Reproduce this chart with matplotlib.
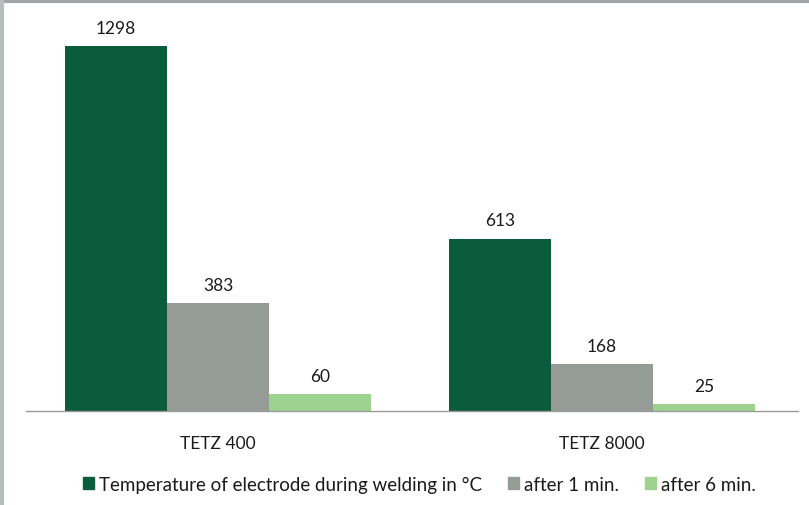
import numpy as np
import matplotlib
matplotlib.use('Agg')
import matplotlib.pyplot as plt
from matplotlib.lines import Line2D
from matplotlib.patches import Rectangle

# ── Data ──────────────────────────────────────────────
categories = ['TETZ 400', 'TETZ 8000']
series_names = ['Temperature of electrode during welding in °C',
                'after 1 min.', 'after 6 min.']
during_welding = [1298, 613]
after_1_min = [383, 168]
after_6_min = [60, 25]

COLORS = ['#0b5c3c', '#959c98', '#9dd28f']

plt.rcParams['font.family'] = ['Lato', 'DejaVu Sans']

fig = plt.figure(figsize=(8.09, 5.06), dpi=100)
# category spacing 384 px, axis line runs a bit past the last group
ax = fig.add_axes([26 / 809, 1 - 412 / 506, 772 / 809, 393.7 / 506])

x = np.arange(len(categories))
width = 0.266
series = [during_welding, after_1_min, after_6_min]
for i, (vals, name, col) in enumerate(zip(series, series_names, COLORS)):
    bars = ax.bar(x + (i - 1) * width, vals, width, color=col, label=name)
    for b, v in zip(bars, vals):
        ax.text(b.get_x() + b.get_width() / 2, v + 36, str(v),
                ha='center', va='bottom', fontsize=12.5, color='#1a1a1a')

ax.set_xlim(-0.5, -0.5 + 772 / 384)
ax.set_ylim(0, 1400)
ax.set_yticks([])
ax.set_xticks(x)
ax.set_xticklabels(categories, fontsize=12.5, color='#1a1a1a')
ax.tick_params(axis='x', length=0, pad=17)
for s in ['top', 'right', 'left']:
    ax.spines[s].set_visible(False)
ax.spines['bottom'].set_color('#999999')
ax.spines['bottom'].set_linewidth(1)

handles = [Rectangle((0, 0), 1, 1, color=c) for c in COLORS]
fig.legend(handles, series_names, loc='center', bbox_to_anchor=(0.518, 1 - 485 / 506),
           ncol=3, frameon=False, fontsize=13.5, handlelength=0.6, handleheight=0.6,
           handletextpad=0.25, columnspacing=1.4, labelcolor='#1a1a1a')

# outer frame (top and left edges)
fig.add_artist(Line2D([0, 1], [1 - 2 / 506] * 2, color='#a0a4a6', lw=3,
                      transform=fig.transFigure))
fig.add_artist(Line2D([2 / 809] * 2, [0, 1], color='#b8bcbe', lw=3,
                      transform=fig.transFigure))

fig.savefig('out.png', dpi=100, facecolor='white')
